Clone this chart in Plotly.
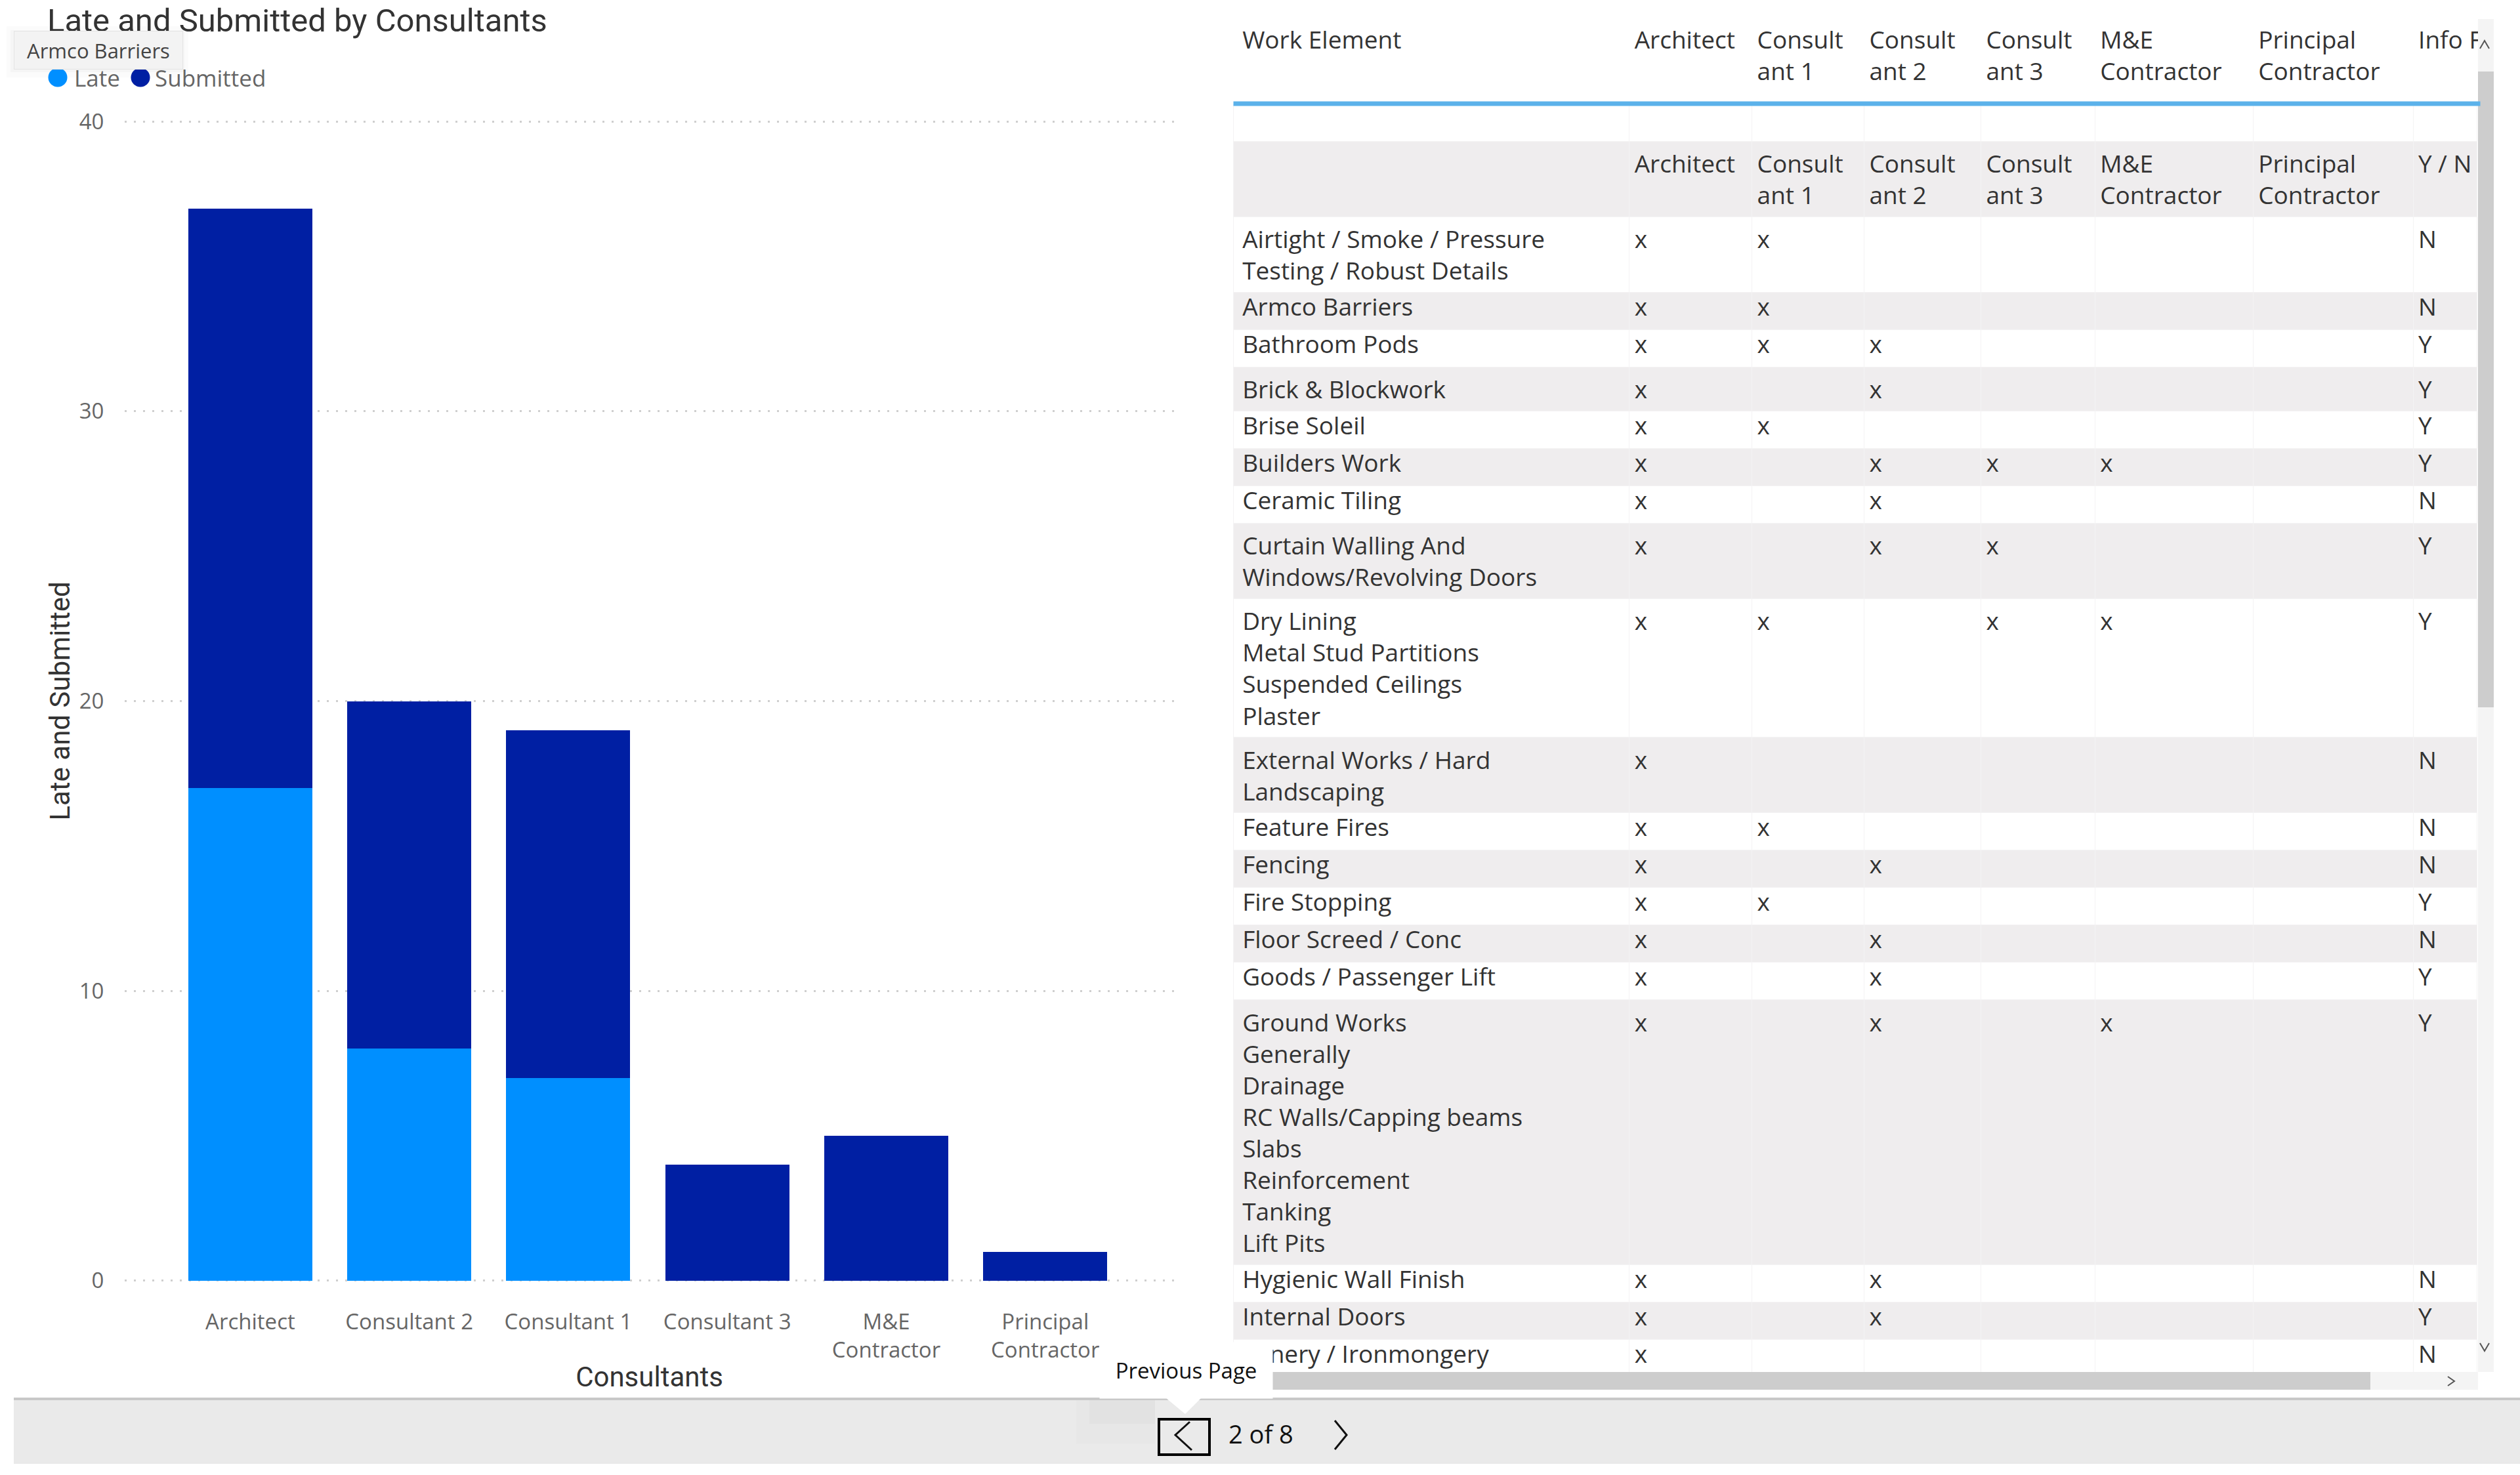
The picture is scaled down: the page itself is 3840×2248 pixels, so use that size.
import plotly.graph_objects as go

W, H = 3840, 2248
TITLE = "Late and Submitted by Consultants"
FONT = "Open Sans"
LATE_COLOR = "#008FFF"
SUBMITTED_COLOR = "#001FA3"
ROW_GREY = "#EFEDEE"

# ---------- Chart data ----------
consultants = ["Architect", "Consultant 2", "Consultant 1", "Consultant 3", "M&E<br>Contractor", "Principal<br>Contractor"]
late = [17, 8, 7, 0, 0, 0]
submitted = [20, 12, 12, 4, 5, 1]
y_ticks = [0, 10, 20, 30, 40]

# ---------- Table data ----------
header_cols = ["Work Element", "Architect", "Consult<br>ant 1", "Consult<br>ant 2", "Consult<br>ant 3",
               "M&E<br>Contractor", "Principal<br>Contractor", "Info\u00a0F"]
sub_cols = ["", "Architect", "Consult<br>ant 1", "Consult<br>ant 2", "Consult<br>ant 3",
            "M&E<br>Contractor", "Principal<br>Contractor", "Y\u00a0/\u00a0N"]
work_elements = [
    "Airtight / Smoke / Pressure<br>Testing / Robust Details", "Armco Barriers", "Bathroom Pods",
    "Brick & Blockwork", "Brise Soleil", "Builders Work", "Ceramic Tiling",
    "Curtain Walling And<br>Windows/Revolving Doors",
    "Dry Lining<br>Metal Stud Partitions<br>Suspended Ceilings<br>Plaster",
    "External Works / Hard<br>Landscaping", "Feature Fires", "Fencing", "Fire Stopping",
    "Floor Screed / Conc", "Goods / Passenger Lift",
    "Ground Works<br>Generally<br>Drainage<br>RC Walls/Capping beams<br>Slabs<br>Reinforcement<br>Tanking<br>Lift Pits",
    "Hygienic Wall Finish", "Internal Doors", "Joinery / Ironmongery",
]
architect_marks = ["x"] * 19
c1_marks = ["x", "x", "x", "", "x", "", "", "", "x", "", "x", "", "x", "", "", "", "", "", ""]
c2_marks = ["", "", "x", "x", "", "x", "x", "x", "", "", "", "x", "", "x", "x", "x", "x", "x", ""]
c3_marks = ["", "", "", "", "", "x", "", "x", "x", "", "", "", "", "", "", "", "", "", ""]
me_marks = ["", "", "", "", "", "x", "", "", "x", "", "", "", "", "", "", "x", "", "", ""]
pc_marks = [""] * 19
info_flags = ["N", "N", "Y", "Y", "Y", "Y", "N", "Y", "Y", "N", "N", "N", "Y", "N", "Y", "Y", "N", "Y", "N"]
col_widths = [604, 187, 171, 178, 174, 241, 244, 98]


def px(x):
    return x / W


def py(y):
    return 1 - y / H


def box(x0, y0, x1, y1, fill, line=None, lw=0):
    return dict(type="rect", xref="paper", yref="paper", x0=px(x0), x1=px(x1), y0=py(y0), y1=py(y1),
                fillcolor=fill, line=dict(color=line or fill, width=lw), layer="above")


def dot(cx, cy, r, fill):
    return dict(type="circle", xref="paper", yref="paper", x0=px(cx - r), x1=px(cx + r), y0=py(cy + r), y1=py(cy - r),
                fillcolor=fill, line=dict(width=0), layer="above")


def path(points, color, fill=None, lw=3):
    d = "M " + " L ".join(f"{px(x)},{py(y)}" for x, y in points)
    if fill:
        d += " Z"
    return dict(type="path", xref="paper", yref="paper", path=d, fillcolor=fill,
                line=dict(color=color, width=lw), layer="above")


def label(text, x, y, size, color, anchor="left", family=FONT, **kw):
    return dict(text=text, xref="paper", yref="paper", x=px(x), y=py(y), showarrow=False,
                xanchor=anchor, yanchor="middle", font=dict(size=size, color=color, family=family), **kw)


def indent(value):
    return "<br>".join("\u2009" + part for part in value.split("<br>"))


def row_cells(row):
    # rows with markup: span on every cell so the first lines share a baseline
    if any("<br>" in v or "&" in v for v in row):
        return [f"<span>{v}</span>" if v else v for v in row]
    return row


# second header row and blank spacer row are plain body rows
mark_cols = [architect_marks, c1_marks, c2_marks, c3_marks, me_marks, pc_marks, info_flags]
rows = [[indent(sub_cols[0])] + sub_cols[1:]]
for i, element in enumerate(work_elements):
    rows.append([indent(element)] + [col[i] for col in mark_cols])
rows = [row_cells(r) for r in rows]

columns = [[""] + [r[c] for r in rows] for c in range(len(col_widths))]
row_fill = ["#FFFFFF", ROW_GREY] + ["#FFFFFF" if i % 2 == 0 else ROW_GREY for i in range(19)]

fig = go.Figure()
fig.add_trace(go.Bar(x=list(range(6)), y=late, marker_color=LATE_COLOR, marker_line_width=0,
                     width=0.78, showlegend=False, name="Late"))
fig.add_trace(go.Bar(x=list(range(6)), y=submitted, marker_color=SUBMITTED_COLOR, marker_line_width=0,
                     width=0.78, showlegend=False, name="Submitted"))
fig.add_trace(go.Table(
    domain=dict(x=[px(1879), px(3776)], y=[py(2091), py(26)]),
    columnwidth=col_widths,
    header=dict(values=row_cells([indent(header_cols[0])] + header_cols[1:]), height=132, align="left",
                fill_color="#FFFFFF", line=dict(color="#FFFFFF", width=1),
                font=dict(size=37, color="#333333", family=FONT)),
    cells=dict(values=columns, height=57, align="left",
               fill_color=[row_fill], line=dict(color="#F4F3F4", width=1),
               font=dict(size=37, color="#333333", family=FONT)),
))

shapes = [
    # soft shadows behind the tooltips
    box(10, 40, 287, 118, "rgba(0,0,0,0.015)"),
    box(16, 46, 281, 110, "rgba(0,0,0,0.025)"),
    # footer bar
    box(21, 2132, W, 2231, "#EAEAEA"),
    box(21, 2130, W, 2134, "#C8C8C8"),
    box(1640, 2134, 1760, 2200, "rgba(0,0,0,0.012)"),
    box(1660, 2134, 1760, 2170, "rgba(0,0,0,0.018)"),
    # vertical scroll bar
    box(3776, 29, 3800, 2091, "#F4F4F4"),
    box(3776, 109, 3800, 1078, "#CDCDCD"),
    # horizontal scroll bar
    box(1879, 2091, 3776, 2118, "#F4F4F4"),
    box(1885, 2091, 3612, 2118, "#CDCDCD"),
    # previous page button and chevrons
    box(1766, 2163, 1843, 2217, "#EAEAEA", "#000000", 4),
    path([(1813, 2167), (1791, 2187), (1816, 2210)], "#111111"),
    path([(2034, 2165), (2052, 2187), (2034, 2209)], "#111111"),
    # tooltip pointer
    path([(1776, 2130), (1806, 2155), (1831, 2130)], "#FFFFFF", fill="#FFFFFF", lw=0),
    # arrows on the scroll bars
    path([(3779, 74), (3786, 62), (3793, 74)], "#555555", lw=2),
    path([(3779, 2047), (3786, 2059), (3793, 2047)], "#555555", lw=2),
    path([(3730, 2098), (3740, 2105), (3730, 2112)], "#555555", lw=2),
    # legend markers
    dot(88, 118, 14.5, LATE_COLOR),
    dot(214, 118, 14.5, SUBMITTED_COLOR),
]

annotations = [
    label(TITLE, 70, 32, 49, "#333333", family="Roboto"),
    label("Armco Barriers", 21, 76, 31, "#444444", bgcolor="#F3F3F3", width=254, height=55, align="center",
          bordercolor="#E4E4E4", borderwidth=1),
    label("Late", 111, 118, 35, "#666666"),
    label("Submitted", 234, 118, 35, "#666666"),
    label("Previous Page", 1675, 2088, 33, "#111111", bgcolor="#FFFFFF", width=261, height=83, align="center"),
    label("2 of 8", 1870, 2185, 38, "#111111"),
    # blue rule under the header row
    label(" ", 1879, 158, 2, "#5CB2EA", bgcolor="#5CB2EA", width=1897, height=4),
]

fig.update_layout(
    width=W, height=H, autosize=False,
    margin=dict(l=0, r=0, t=0, b=0),
    paper_bgcolor="#FFFFFF", plot_bgcolor="#FFFFFF",
    barmode="stack", showlegend=False,
    font=dict(family=FONT, size=33, color="#666666"),
    shapes=shapes, annotations=annotations,
    xaxis=dict(domain=[px(190), px(1789)], range=[-0.79, 5.81], tickmode="array", automargin=False,
               tickvals=list(range(6)), ticktext=consultants, showgrid=False, zeroline=False,
               showline=False, ticks="outside", ticklen=20, tickcolor="rgba(0,0,0,0)",
               tickfont=dict(size=33, color="#666666"),
               title=dict(text="Consultants", standoff=6, font=dict(size=42, color="#333333", family="Roboto"))),
    # range runs a little past 0 and 40 so the gridlines at the ends are still drawn
    yaxis=dict(domain=[py(1965), py(172)], range=[-0.3, 40.3], tickmode="array", tickvals=y_ticks, automargin=False,
               showgrid=True, gridcolor="#CFCFCF", griddash="3px,11px", gridwidth=3, zeroline=False,
               showline=False, ticks="outside", ticklen=24, tickcolor="rgba(0,0,0,0)",
               tickfont=dict(size=33, color="#666666"),
               title=dict(text="Late and Submitted", standoff=0, font=dict(size=42, color="#333333", family="Roboto"))),
)

fig.write_html("out.html", config=dict(displayModeBar=False), post_script="document.body.style.margin='0';")
